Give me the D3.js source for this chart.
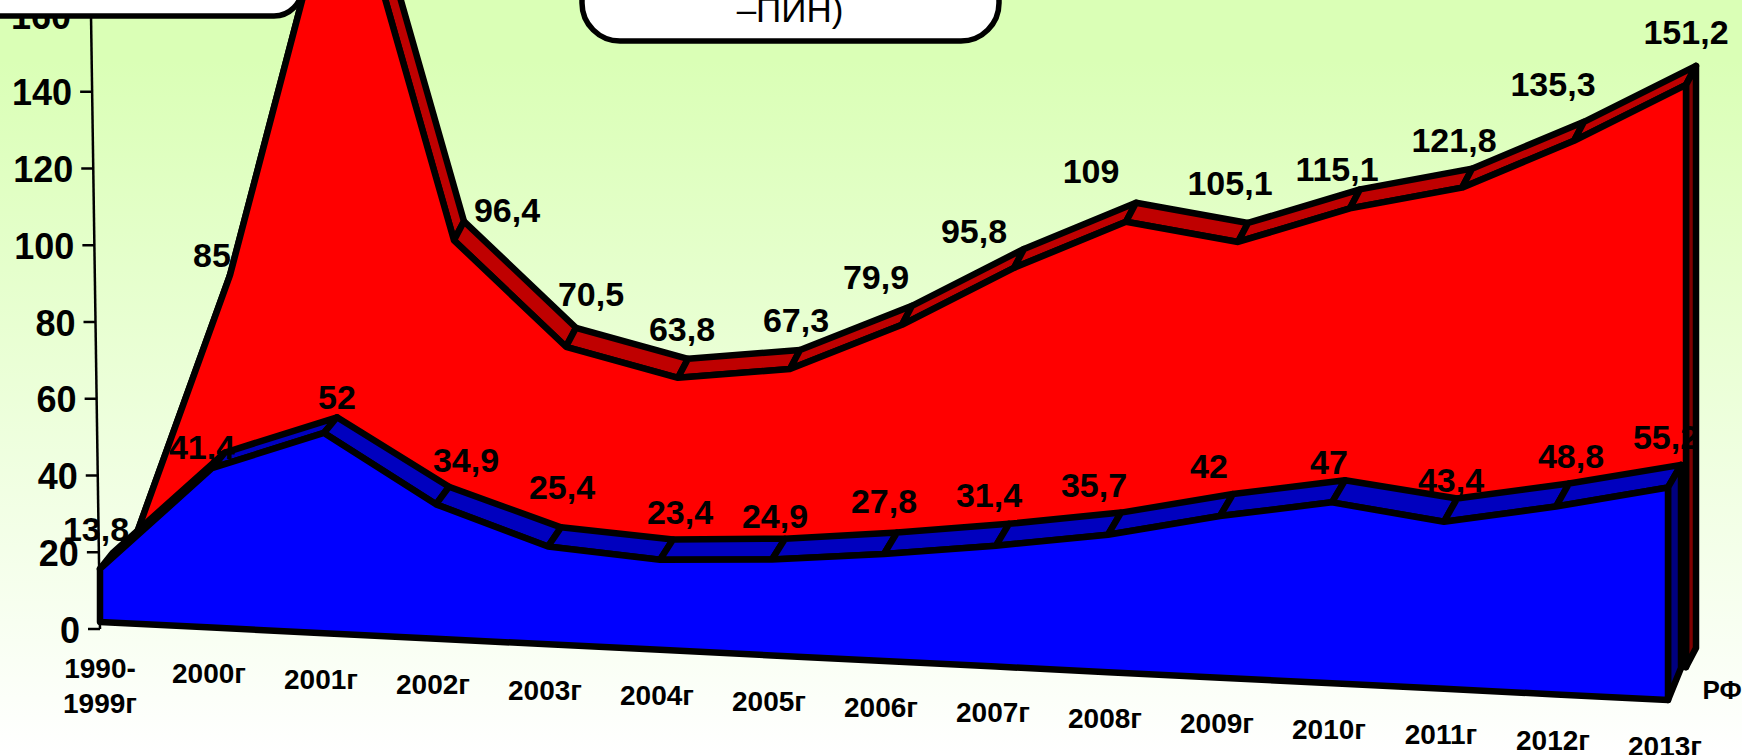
<!DOCTYPE html>
<html><head><meta charset="utf-8">
<script src="https://cdnjs.cloudflare.com/ajax/libs/d3/7.8.5/d3.min.js"></script>
<style>html,body{margin:0;padding:0;overflow:hidden;background:#fff}svg{display:block}text{font-family:"Liberation Sans",Arial,sans-serif}</style>
</head><body><svg id="c" width="1742" height="755"></svg>
<script>
// ---- data ----
const categories = ["1990-1999г","2000г","2001г","2002г","2003г","2004г","2005г","2006г","2007г","2008г","2009г","2010г","2011г","2012г","2013г"];
const blueValues = [13.8,41.4,52,34.9,25.4,23.4,24.9,27.8,31.4,35.7,42,47,43.4,48.8,55.2];
// first and 2001 red values are unlabelled / off the picture: estimated from the line slopes
const redValues  = [5,85,195,96.4,70.5,63.8,67.3,79.9,95.8,109,105.1,115.1,121.8,135.3,151.2];
const redLabelled = [false,true,false,true,true,true,true,true,true,true,true,true,true,true,true];
const yTicks = [0,20,40,60,80,100,120,140,160];
const seriesName = "РФ";
const calloutText = "–ПИН)";

// ---- layout (hand placement of the labels, relative to scale positions) ----
const blueNudge = [[-17,-24],[-23,-6],[0,-20],[17,-27],[1,-40],[7,-28],[-10,-23],[-13,-32],[-20,-29],[-27,-28],[-24,-28],[-16,-18],[-6,-19],[2,-27],[-15,-28]];
const redNudge  = [[0,0],[-28,-1],[0,0],[43,-11],[15,-34],[-6,-30],[-4,-30],[-36,-29],[-50,-18],[-45,-32],[-18,-40],[-23,-20],[-18,-29],[-31,-38],[-10,-34]];

const svg = d3.select("#c");
const defs = svg.append("defs");
const g = defs.append("linearGradient").attr("id","bg").attr("x1",0).attr("x2",0).attr("y1",0).attr("y2",1);
g.append("stop").attr("offset","0%").attr("stop-color","#DAFFB6");
g.append("stop").attr("offset","8%").attr("stop-color","#DAFFB6");
g.append("stop").attr("offset","100%").attr("stop-color","#FFFFFF");
svg.append("rect").attr("width",1742).attr("height",755).attr("fill","url(#bg)");

// scales
const x = d3.scalePoint().domain(categories).range([100,1668]);
const baseY = d3.scaleLinear().domain([100,1668]).range([622,700]);   // sloping floor
const yAxisScale = d3.scaleLinear().domain([0,160]).range([629,15]);
const along = d3.scaleLinear().domain([100,1668]).range([0,1]);
const planes = {
  blueFront:{dx:0,  dy:[0,0],     k:[3.85,3.85]},
  blueBack: {dx:13, dy:[-17,-32], k:[3.8,3.68]},
  redFront: {dx:18, dy:[-17,-33], k:[3.94,3.85]},
  redBack:  {dx:28, dy:[-36,-52], k:[3.94,3.85]}
};
const lerp = (r,t)=>d3.scaleLinear().domain([0,1]).range(r)(t);
function floorPt(c,p){
  const x0=x(c);
  return [x0+p.dx, baseY(x0)+lerp(p.dy,along(x0))];
}
function pt(c,v,p){
  const [fx,fy]=floorPt(c,p);
  return [fx, fy-v*lerp(p.k,along(x(c)))];
}
const path = d3.line();
const STROKE = 6.5;

function drawSeries(values,front,back,ridgeColor,faceColor,wallColor){
  const layer = svg.append("g").attr("stroke","#000").attr("stroke-width",STROKE).attr("stroke-linejoin","round");
  const pts = categories.map((c,i)=>({c,v:values[i]}));
  // top ridge
  layer.selectAll(".ridge").data(d3.pairs(pts)).join("path").attr("class","ridge")
    .attr("fill",ridgeColor)
    .attr("d",([a,b])=>path([pt(a.c,a.v,front),pt(b.c,b.v,front),pt(b.c,b.v,back),pt(a.c,a.v,back)])+"Z");
  // right wall
  const last = pts[pts.length-1];
  layer.append("path").attr("fill",wallColor)
    .attr("d",path([pt(last.c,last.v,front),pt(last.c,last.v,back),floorPt(last.c,back),floorPt(last.c,front)])+"Z");
  // front face
  const area = d3.area().x(d=>floorPt(d.c,front)[0]).y0(d=>floorPt(d.c,front)[1]).y1(d=>pt(d.c,d.v,front)[1]);
  layer.append("path").attr("fill",faceColor).attr("d",area(pts)+"Z");
}

// y axis (leaning in the picture, so each tick is shifted along the axis line)
const axisX = d3.scaleLinear().domain([629,15]).range([100,91]);
const ax = svg.append("g").call(d3.axisLeft(yAxisScale).tickValues(yTicks).tickSize(12).tickPadding(8).tickSizeOuter(0));
ax.select(".domain").remove();
ax.selectAll(".tick").attr("transform",d=>`translate(${axisX(yAxisScale(d))},${yAxisScale(d)})`);
ax.selectAll(".tick line").attr("stroke","#000").attr("stroke-width",2.5);
ax.selectAll(".tick text").attr("font-family","Liberation Sans").attr("font-size",36).attr("font-weight","bold").attr("fill","#000").attr("dy","0.38em");
svg.append("line").attr("x1",axisX(629)).attr("y1",629).attr("x2",axisX(15)).attr("y2",15).attr("stroke","#000").attr("stroke-width",2.5);

drawSeries(redValues,planes.redFront,planes.redBack,"#BF0000","#FF0000","#7F0000");
drawSeries(blueValues,planes.blueFront,planes.blueBack,"#0000BF","#0000FF","#00007F");

// category labels under the sloping floor
const xl = svg.append("g").attr("font-size",28).attr("font-weight","bold").attr("text-anchor","middle").attr("fill","#000");
categories.forEach((c,i)=>{
  const bx=x(c)-(i?3:0), by=baseY(x(c))+46;
  const m=c.match(/^(\d+-)(.+)$/);
  const t=xl.append("text").attr("x",bx).attr("dominant-baseline","central");
  if(m){
    t.attr("y",by).text(m[1]);
    xl.append("text").attr("x",bx).attr("y",by+35).attr("dominant-baseline","central").text(m[2]);
  } else t.attr("y",by).text(c);
});

// depth label
const lastC = categories[categories.length-1];
svg.append("text").attr("x",floorPt(lastC,planes.redBack)[0]+26).attr("y",floorPt(lastC,planes.redBack)[1]+42)
  .attr("text-anchor","middle").attr("dominant-baseline","central").attr("font-size",26).attr("font-weight","bold").text(seriesName);

// value labels
const fmt = v=>String(v).replace(".",",");
const lab = svg.append("g").attr("font-size",34).attr("font-weight","bold").attr("text-anchor","middle").attr("fill","#000");
lab.selectAll(".b").data(categories).join("text").attr("class","b")
  .attr("x",(c,i)=>pt(c,blueValues[i],planes.blueBack)[0]+blueNudge[i][0])
  .attr("y",(c,i)=>pt(c,blueValues[i],planes.blueBack)[1]+blueNudge[i][1])
  .attr("dominant-baseline","central").text((c,i)=>fmt(blueValues[i]));
lab.selectAll(".r").data(categories.filter((c,i)=>redLabelled[i])).join("text").attr("class","r")
  .each(function(c){
    const i=categories.indexOf(c), p=pt(c,redValues[i],planes.redBack);
    d3.select(this).attr("x",p[0]+redNudge[i][0]).attr("y",p[1]+redNudge[i][1]).attr("dominant-baseline","central").text(fmt(redValues[i]));
  });

// callouts, cut by the top of the picture
const boxes = svg.append("g").attr("fill","#fff").attr("stroke","#000").attr("stroke-width",5.5);
boxes.append("rect").attr("x",-60).attr("y",-80).attr("width",362).attr("height",96).attr("rx",28);
boxes.append("rect").attr("x",582).attr("y",-80).attr("width",417).attr("height",121).attr("rx",38);
svg.append("text").attr("x",790).attr("y",22).attr("text-anchor","middle").attr("font-size",35).attr("fill","#000").text(calloutText);
</script></body></html>
